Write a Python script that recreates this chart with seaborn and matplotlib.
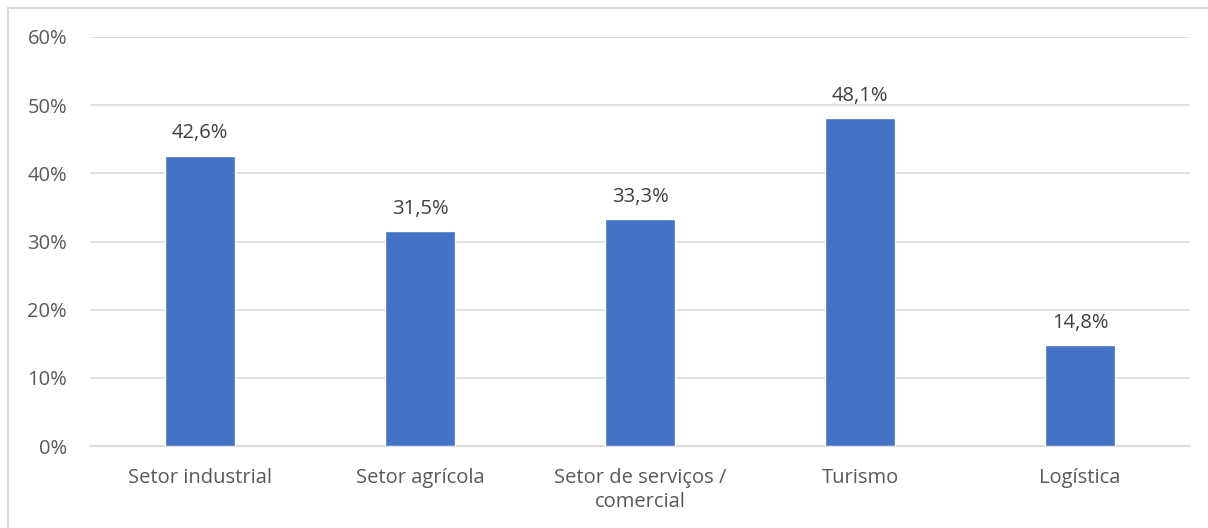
import matplotlib
matplotlib.use("Agg")
import matplotlib.pyplot as plt
import seaborn as sns
import pandas as pd
from matplotlib.patches import Rectangle

categories = ["Setor industrial", "Setor agrícola", "Setor de serviços /\ncomercial", "Turismo", "Logística"]
values = [42.6, 31.5, 33.3, 48.1, 14.8]
yticks = [0, 10, 20, 30, 40, 50, 60]

sns.set_theme(style="white")
plt.rcParams['font.family'] = ['Open Sans', 'DejaVu Sans']

df = pd.DataFrame({"cat": categories, "val": values})

fig = plt.figure(figsize=(12.08, 5.28), dpi=100)
ax = fig.add_axes([90/1208, 1-446/528, 1100/1208, (446-37)/528])

sns.barplot(data=df, x="cat", y="val", color="#4472C4", width=0.32, saturation=1, ax=ax, zorder=3)

ax.set_ylim(0, 60)
ax.set_yticks(yticks)
ax.set_yticklabels([f"{t}%" for t in yticks])
ax.set_xlim(-0.5, len(categories) - 0.5)
ax.grid(axis="y", color="#D9D9D9", linewidth=1.2, zorder=0)
ax.set_axisbelow(True)
for s in ["top", "right", "left"]:
    ax.spines[s].set_visible(False)
ax.spines["bottom"].set_color("#D9D9D9")
ax.spines["bottom"].set_linewidth(1.2)
ax.tick_params(axis="both", length=0, colors="#595959", labelsize=14.5)
ax.tick_params(axis="y", pad=16.5)
ax.tick_params(axis="x", pad=15.5)
for lbl in ax.get_xticklabels():
    lbl.set_linespacing(1.3)
ax.set_xlabel("")
ax.set_ylabel("")

for i, v in enumerate(values):
    ax.annotate(f"{v:.1f}%".replace(".", ","), (i, v), xytext=(0, 9), textcoords="offset points",
                ha="center", va="bottom", fontsize=14.5, color="#404040")

fig.patches.append(Rectangle((8/1208, -0.1), 1.2, 1 - 8/528 + 0.1, transform=fig.transFigure,
                             fill=False, edgecolor="#D9D9D9", linewidth=1.5))

fig.savefig("out.png", dpi=100)
